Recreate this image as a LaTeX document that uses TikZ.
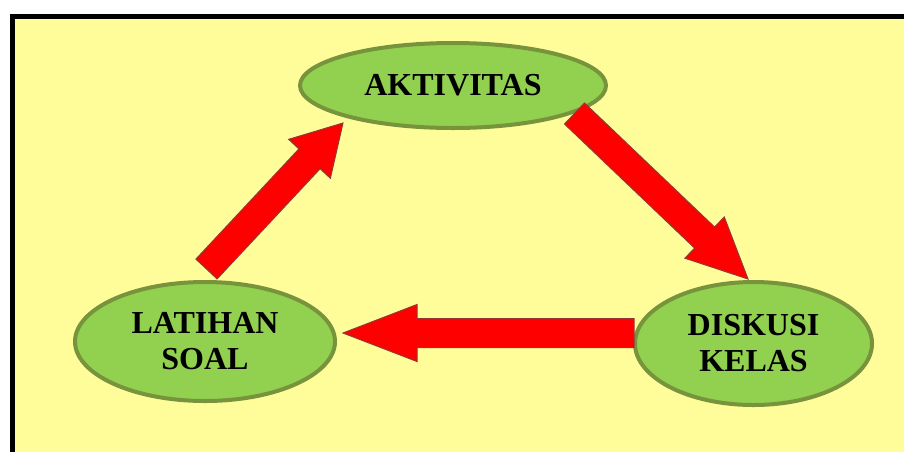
\documentclass[tikz,border=0pt]{standalone}
\usepackage{fontspec}
\setmainfont{Liberation Serif}
\usepackage{tikz}
\usetikzlibrary{shapes.geometric,calc}
\definecolor{giallo}{HTML}{FFFD99}
\definecolor{verde}{HTML}{92D050}
\definecolor{verdescuro}{HTML}{77933C}
\definecolor{rosso}{HTML}{FF0000}
\definecolor{bordorosso}{HTML}{953735}
\tikzset{
  fase/.style={ellipse, draw=verdescuro, line width=2pt, fill=verde,
    inner sep=0pt, align=center, font=\bfseries\fontsize{16pt}{18pt}\selectfont},
  freccia/.style={fill=rosso, draw=bordorosso, line width=0.5pt, line join=miter}
}
% freccia piena: #1 coda, #2 punta, #3 lunghezza della punta
\newcommand{\frecciona}[3]{%
  \coordinate (fH) at ($(#2)!#3!(#1)$);
  \draw[freccia] ($(#1)!7.25pt!90:(#2)$) -- ($(fH)!7.25pt!90:(#2)$)
    -- ($(fH)!14.25pt!90:(#2)$) -- (#2) -- ($(fH)!14.25pt!-90:(#2)$)
    -- ($(fH)!7.25pt!-90:(#2)$) -- ($(#1)!7.25pt!-90:(#2)$) -- cycle;
}

\begin{document}
\begin{tikzpicture}[x=0.5pt,y=-0.5pt]
        \useasboundingbox (0,0) rectangle (904,451);
        \fill[white] (0,0) rectangle (904,451);
        \draw[line width=2.5pt, fill=giallo] (12.5,16.5) rectangle (930,480);
        \node[fase, minimum width=153pt, minimum height=42.5pt] (akt) at (453,85.5) {AKTIVITAS};
        \node[fase, minimum width=130pt, minimum height=59.5pt] (lat) at (205,341.5) {LATIHAN\\SOAL};
        \node[fase, minimum width=118.5pt, minimum height=61.5pt] (dis) at (753.5,343.5) {DISKUSI\\KELAS};
        % estremi delle frecce
        \coordinate (lat-out) at ($(lat.north)+(1.5,-11)$);
        \coordinate (akt-in) at ($(akt.center)+(-110,37.5)$);
        \coordinate (akt-out) at ($(akt.center)+(121.5,28)$);
        \coordinate (dis-in) at ($(dis.north)+(-5.5,-1)$);
        \coordinate (dis-out) at ($(dis.west)+(1,-10.5)$);
        \coordinate (lat-in) at ($(lat.east)+(6,-8.5)$);
        \frecciona{lat-out}{akt-in}{24.5pt}
        \frecciona{akt-out}{dis-in}{30pt}
        \frecciona{dis-out}{lat-in}{37pt}
    \end{tikzpicture}
\end{document}
